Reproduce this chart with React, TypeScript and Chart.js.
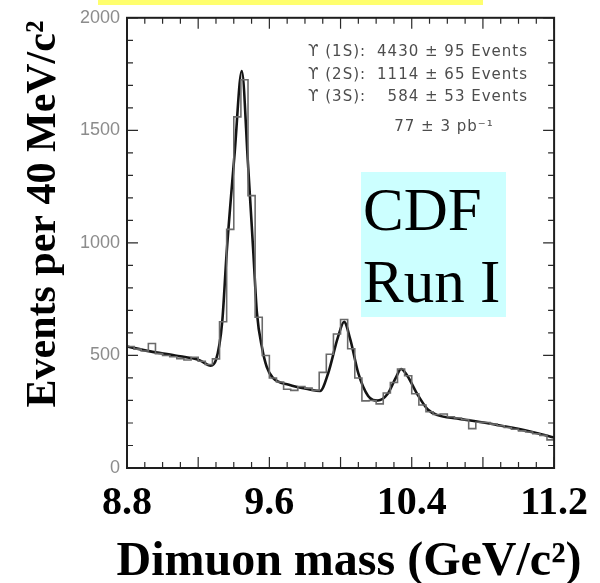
import React, { useEffect, useRef } from "react";
import { Chart, registerables } from "chart.js";

Chart.register(...registerables);

// ---- data ----
const binLowEdge = 8.8; // GeV/c^2
const binWidth = 0.04; // 40 MeV bins
const histCounts = [
  540, 528, 520, 553, 508, 500, 494, 486, 480, 492,
  474, 460, 485, 650, 1060, 1560, 1725, 1210, 670, 500,
  400, 382, 350, 345, 362, 355, 345, 425, 505, 595,
  660, 530, 400, 298, 300, 285, 333, 380, 440, 410,
  330, 280, 250, 238, 240, 228, 222, 215, 175, 203,
  202, 195, 188, 180, 172, 165, 160, 152, 145, 125,
];
const fitMass = [
  8.8, 8.93, 9.07, 9.21, 9.27, 9.3, 9.335, 9.36, 9.405, 9.445,
  9.48, 9.51, 9.53, 9.56, 9.585, 9.62, 9.71, 9.82, 9.885, 9.93,
  9.985, 10.02, 10.055, 10.1, 10.155, 10.21, 10.265, 10.31, 10.34, 10.375,
  10.43, 10.49, 10.545, 10.655, 10.82, 10.99, 11.1, 11.2,
];
const fitValue = [
  540, 518, 500, 478, 455, 480, 649, 956, 1400, 1763,
  1350, 956, 690, 530, 450, 400, 370, 350, 342, 420,
  580, 649, 570, 420, 320, 300, 330, 400, 440, 410,
  330, 260, 235, 220, 200, 175, 155, 135,
];
const xMin = 8.8;
const xMax = 11.2;
const yMin = 0;
const yMax = 2000;
const xTickLabels = [8.8, 9.6, 10.4, 11.2];
const yTickLabels = [0, 500, 1000, 1500, 2000];
const xMinorStep = 0.1;
const xMajorEvery = 4;
const yMinorStep = 100;
const yMajorEvery = 5;
const legendLabels = ["ϒ (1S):", "ϒ (2S):", "ϒ (3S):"];
const legendYields = ["4430 ± 95 Events", "1114 ± 65 Events", "584 ± 53 Events"];
const luminosityText = "77 ± 3 pb⁻¹";
const xTitle = "Dimuon mass (GeV/c²)";
const yTitle = "Events per 40 MeV/c²";
const boxLines = ["CDF", "Run I"];

const decorPlugin = {
  id: "decor",
  beforeDraw(chart: any) {
    const { ctx, width, height } = chart;
    ctx.save();
    ctx.fillStyle = "#ffffff";
    ctx.fillRect(0, 0, width, height);
    ctx.fillStyle = "#ffff6e";
    ctx.fillRect(98, 0, 385, 5);
    ctx.restore();
  },
  afterDraw(chart: any) {
    const { ctx, chartArea } = chart;
    const { left, right, top, bottom } = chartArea;
    const xs = chart.scales.x;
    const ys = chart.scales.y;
    ctx.save();
    // inward ticks
    ctx.strokeStyle = "#2a2a2a";
    ctx.lineWidth = 1.2;
    const nx = Math.round((xMax - xMin) / xMinorStep);
    for (let k = 0; k <= nx; k++) {
      const px = xs.getPixelForValue(xMin + k * xMinorStep);
      const len = k % xMajorEvery === 0 ? 11 : 6;
      ctx.beginPath();
      ctx.moveTo(px, bottom);
      ctx.lineTo(px, bottom - len);
      ctx.moveTo(px, top);
      ctx.lineTo(px, top + len);
      ctx.stroke();
    }
    const ny = Math.round((yMax - yMin) / yMinorStep);
    for (let k = 0; k <= ny; k++) {
      const py = ys.getPixelForValue(yMin + k * yMinorStep);
      const len = k % yMajorEvery === 0 ? 11 : 6;
      ctx.beginPath();
      ctx.moveTo(left, py);
      ctx.lineTo(left + len, py);
      ctx.moveTo(right, py);
      ctx.lineTo(right - len, py);
      ctx.stroke();
    }
    // frame
    ctx.lineWidth = 2;
    ctx.strokeStyle = "#1e1e1e";
    ctx.strokeRect(left, top, right - left, bottom - top);

    // legend text
    ctx.fillStyle = "#4d4d4d";
    ctx.font = "15px 'DejaVu Sans'";
    (ctx as any).letterSpacing = "1px";
    ctx.textBaseline = "middle";
    const rowsY = [52, 75, 97];
    legendLabels.forEach((lab, i) => {
      ctx.textAlign = "left";
      ctx.fillText(lab, 308, rowsY[i]);
      ctx.textAlign = "right";
      ctx.fillText(legendYields[i], 528, rowsY[i]);
    });
    ctx.textAlign = "center";
    ctx.fillText(luminosityText, 444, 127);
    (ctx as any).letterSpacing = "0px";

    // CDF Run I box
    ctx.fillStyle = "#ccffff";
    ctx.fillRect(361, 172, 145, 145);
    ctx.fillStyle = "#000000";
    ctx.font = "61px 'Liberation Serif'";
    ctx.textAlign = "left";
    ctx.textBaseline = "alphabetic";
    ctx.fillText(boxLines[0], 363, 230);
    ctx.fillText(boxLines[1], 363, 302);

    // axis titles
    ctx.font = "bold 48px 'Liberation Serif'";
    ctx.textAlign = "center";
    ctx.fillText(xTitle, 349, 575);
    ctx.save();
    ctx.translate(55, 214);
    ctx.rotate(-Math.PI / 2);
    ctx.font = "bold 42px 'Liberation Serif'";
    ctx.fillText(yTitle, 0, 0);
    ctx.restore();
    ctx.restore();
  },
};

export default function App() {
  const ref = useRef<HTMLCanvasElement | null>(null);
  useEffect(() => {
    if (!ref.current) return;
    const histPoints = histCounts.map((c, i) => ({ x: binLowEdge + i * binWidth, y: c }));
    histPoints.push({ x: binLowEdge + histCounts.length * binWidth, y: histCounts[histCounts.length - 1] });
    const fitPoints = fitMass.map((m, i) => ({ x: m, y: fitValue[i] }));
    const chart = new Chart(ref.current, {
      type: "line",
      data: {
        datasets: [
          {
            label: "Data",
            data: histPoints,
            borderColor: "#6a6a6a",
            borderWidth: 1.6,
            pointRadius: 0,
            stepped: "before",
            fill: false,
          },
          {
            label: "Fit",
            data: fitPoints,
            borderColor: "#141414",
            borderWidth: 2.6,
            pointRadius: 0,
            cubicInterpolationMode: "monotone",
            fill: false,
          },
        ],
      },
      options: {
        animation: false,
        responsive: false,
        maintainAspectRatio: false,
        events: [],
        layout: { padding: { left: 0, top: 12, right: 42, bottom: 0 } },
        plugins: { legend: { display: false }, tooltip: { enabled: false }, title: { display: false } },
        scales: {
          x: {
            type: "linear",
            min: xMin,
            max: xMax,
            grid: { display: false, drawTicks: false },
            border: { display: false },
            afterBuildTicks: (scale: any) => {
              scale.ticks = xTickLabels.map((v) => ({ value: v }));
            },
            afterFit: (scale: any) => {
              scale.height = 115;
            },
            ticks: {
              autoSkip: false,
              maxRotation: 0,
              padding: 12,
              color: "#000000",
              font: { family: "'Liberation Serif'", size: 40, weight: "bold" },
              callback: (v: any) => Number(v).toFixed(1),
            },
          },
          y: {
            type: "linear",
            min: yMin,
            max: yMax,
            grid: { display: false, drawTicks: false },
            border: { display: false },
            afterBuildTicks: (scale: any) => {
              scale.ticks = yTickLabels.map((v) => ({ value: v }));
            },
            afterFit: (scale: any) => {
              scale.width = 127;
            },
            ticks: {
              padding: 7,
              color: "#8c8c8c",
              font: { family: "'Liberation Sans'", size: 18 },
              callback: (v: any) => String(v),
            },
          },
        },
      },
      plugins: [decorPlugin],
    });
    return () => chart.destroy();
  }, []);
  return (
    <div style={{ position: "absolute", left: 0, top: 0, width: 600, height: 583 }}>
      <canvas ref={ref} width={600} height={583} />
    </div>
  );
}
